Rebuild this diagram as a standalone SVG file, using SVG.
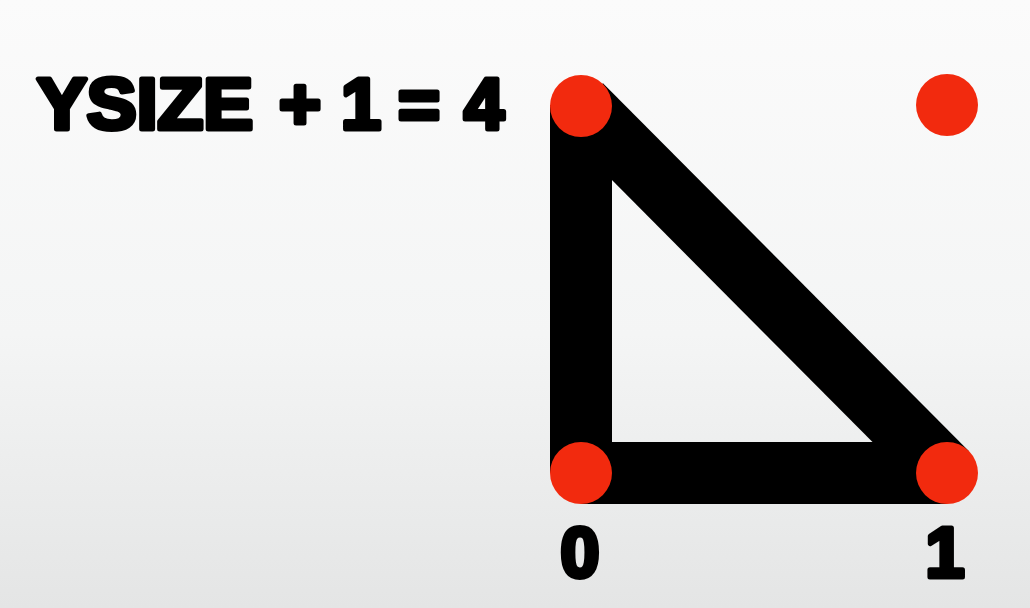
<svg xmlns="http://www.w3.org/2000/svg" width="1030" height="608" viewBox="0 0 1030 608">
  <defs>
    <linearGradient id="bg" x1="0" y1="0" x2="0" y2="1">
      <stop offset="0" stop-color="#fbfbfb"/>
      <stop offset="0.55" stop-color="#f4f5f5"/>
      <stop offset="1" stop-color="#e4e5e5"/>
    </linearGradient>
  </defs>
  <style>
    .edge { stroke: #000; stroke-width: 62; stroke-linecap: butt; fill: none; }
    .dot { fill: #f22a0e; }
    .lbl { font-family: "Liberation Sans", Arial, sans-serif; font-weight: bold; fill: #000; stroke: #000; stroke-width: 5; stroke-linejoin: round; }
  </style>
  <rect x="0" y="0" width="1030" height="608" fill="url(#bg)"/>

  <text class="lbl" font-size="72" y="129"><tspan x="37" textLength="216" lengthAdjust="spacingAndGlyphs">YSIZE</tspan><tspan x="279">+</tspan><tspan x="341">1</tspan><tspan x="398">=</tspan><tspan x="464">4</tspan></text>

  <g id="connectors">
    <line class="edge" x1="581" y1="105" x2="581" y2="473"/>
    <line class="edge" x1="581" y1="473" x2="947" y2="473"/>
    <line class="edge" x1="581" y1="105" x2="947" y2="473"/>
  </g>

  <g id="node-top-left"><circle class="dot" cx="581" cy="106" r="31"/></g>
  <g id="node-top-right"><circle class="dot" cx="947" cy="105" r="31"/></g>
  <g id="node-bottom-left"><circle class="dot" cx="581" cy="473" r="31"/></g>
  <g id="node-bottom-right"><circle class="dot" cx="947" cy="473" r="31"/></g>

  <text class="lbl" font-size="70" x="580" y="577" text-anchor="middle">0</text>
  <text class="lbl" font-size="70" x="945" y="577" text-anchor="middle">1</text>
</svg>
